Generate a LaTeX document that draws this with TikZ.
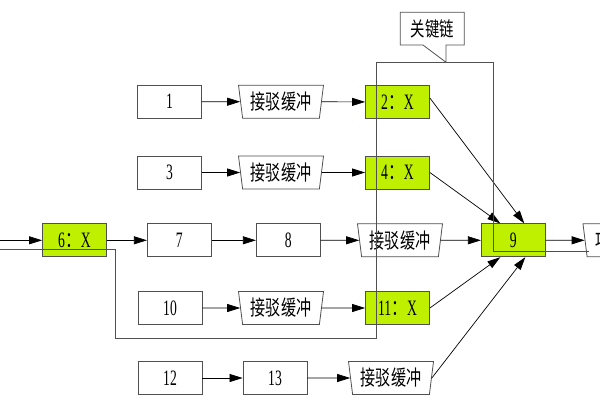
\documentclass[tikz,border=0pt]{standalone}
\usepackage{fontspec}
\setmainfont{Liberation Serif}[FakeStretch=0.62]
\newfontfamily\cjk{Noto Sans CJK SC}[FakeStretch=0.72]
\usetikzlibrary{arrows.meta,shapes.geometric}
\definecolor{crit}{RGB}{191,240,0}
\definecolor{edge}{RGB}{80,80,80}
\tikzset{
  box/.style={rectangle, draw=edge, line width=0.8pt, fill=white, minimum width=64pt, minimum height=33pt, inner sep=0pt, font=\fontsize{22}{24}\selectfont},
  critbox/.style={box, fill=crit},
  buf/.style={trapezium, shape border rotate=180, trapezium left angle=78, trapezium right angle=78, trapezium stretches body, draw=edge, line width=0.8pt, fill=white, minimum width=85pt, minimum height=33pt, inner sep=0pt, font=\cjk\fontsize{21}{23}\selectfont},
  conn/.style={-{Triangle[length=13pt,width=8pt]}, line width=0.7pt, black},
  line/.style={line width=0.7pt, black},
  chain/.style={line width=0.8pt, draw=edge},
  callout/.style={draw=edge, line width=0.8pt, fill=white}
}
\begin{document}
\begin{tikzpicture}[x=1pt,y=-1pt]
\useasboundingbox (0,0) rectangle (600,400);
% row 1
\node[box] (n1) at (169.5,101.7) {1};
\node[buf] (b1) at (281,101.7) {接驳缓冲};
\node[critbox] (n2) at (397.5,102) {2{\cjk：}X};
% row 2
\node[box] (n3) at (169.5,172.5) {3};
\node[buf] (b3) at (281,172.5) {接驳缓冲};
\node[critbox] (n4) at (397.5,172.5) {4{\cjk：}X};
% row 3
\coordinate (in6) at (0,240.3);
\node[critbox] (n6) at (74.5,240.3) {6{\cjk：}X};
\node[box] (n7) at (179.3,240.3) {7};
\node[box] (n8) at (288.3,240.3) {8};
\node[buf] (b8) at (400,240.3) {接驳缓冲};
\node[critbox] (n9) at (513.3,240.3) {9};
\node[buf] (bp) at (625.5,240.3) {项目缓冲};
% row 4
\node[box] (n10) at (170,308) {10};
\node[buf] (b10) at (281,308) {接驳缓冲};
\node[critbox] (n11) at (397.5,308) {11{\cjk：}X};
% row 5
\node[box] (n12) at (170,378) {12};
\node[box] (n13) at (275,378) {13};
\node[buf] (b13) at (391,378) {接驳缓冲};
% connectors
\draw[conn] (n1) -- (b1);
\draw[conn] (b1) -- (n2);
\draw[conn] (n3) -- (b3);
\draw[conn] (b3) -- (n4);
\draw[conn] (in6) -- (n6);
\draw[conn] (n6) -- (n7);
\draw[conn] (n7) -- (n8);
\draw[conn] (n8) -- (b8);
\draw[conn] (b8) -- (n9);
\draw[conn] (n9) -- (bp);
\draw[conn] (n10) -- (b10);
\draw[conn] (b10) -- (n11);
\draw[conn] (n12) -- (n13);
\draw[conn] (n13) -- (b13);
\draw[conn] ([yshift=4pt]n2.east) -- ([xshift=11pt]n9.north);
\draw[conn] (n4.east) -- ([xshift=-13pt]n9.north);
\draw[conn] (n11.east) -- ([xshift=-13pt]n9.south);
\draw[conn] (b13.east) -- ([xshift=12pt]n9.south);
% critical chain outline
\coordinate (c0) at (0,249.3);
\coordinate (c1) at (115.5,249.3);
\coordinate (c2) at (115.5,338.3);
\coordinate (c3) at (376,338.3);
\coordinate (c4) at (376,62.3);
\coordinate (c5) at (493.3,62.3);
\coordinate (c6) at (493.3,251.7);
\coordinate (c7) at (588.5,251.7);
\draw[chain] (c0) -- (c1) -- (c2) -- (c3) -- (c4) -- (c5) -- (c6) -- (c7);
% callout
\coordinate (tip) at (446,62.3);
\draw[callout] (400.3,12.3) -- (464.3,12.3) -- (464.3,45) -- (446,45) -- (tip) -- (423,45) -- (400.3,45) -- cycle;
\node[font=\cjk\fontsize{20}{22}\selectfont, inner sep=0pt] (cl) at (432.3,28.7) {关键链};
\end{tikzpicture}
\end{document}
